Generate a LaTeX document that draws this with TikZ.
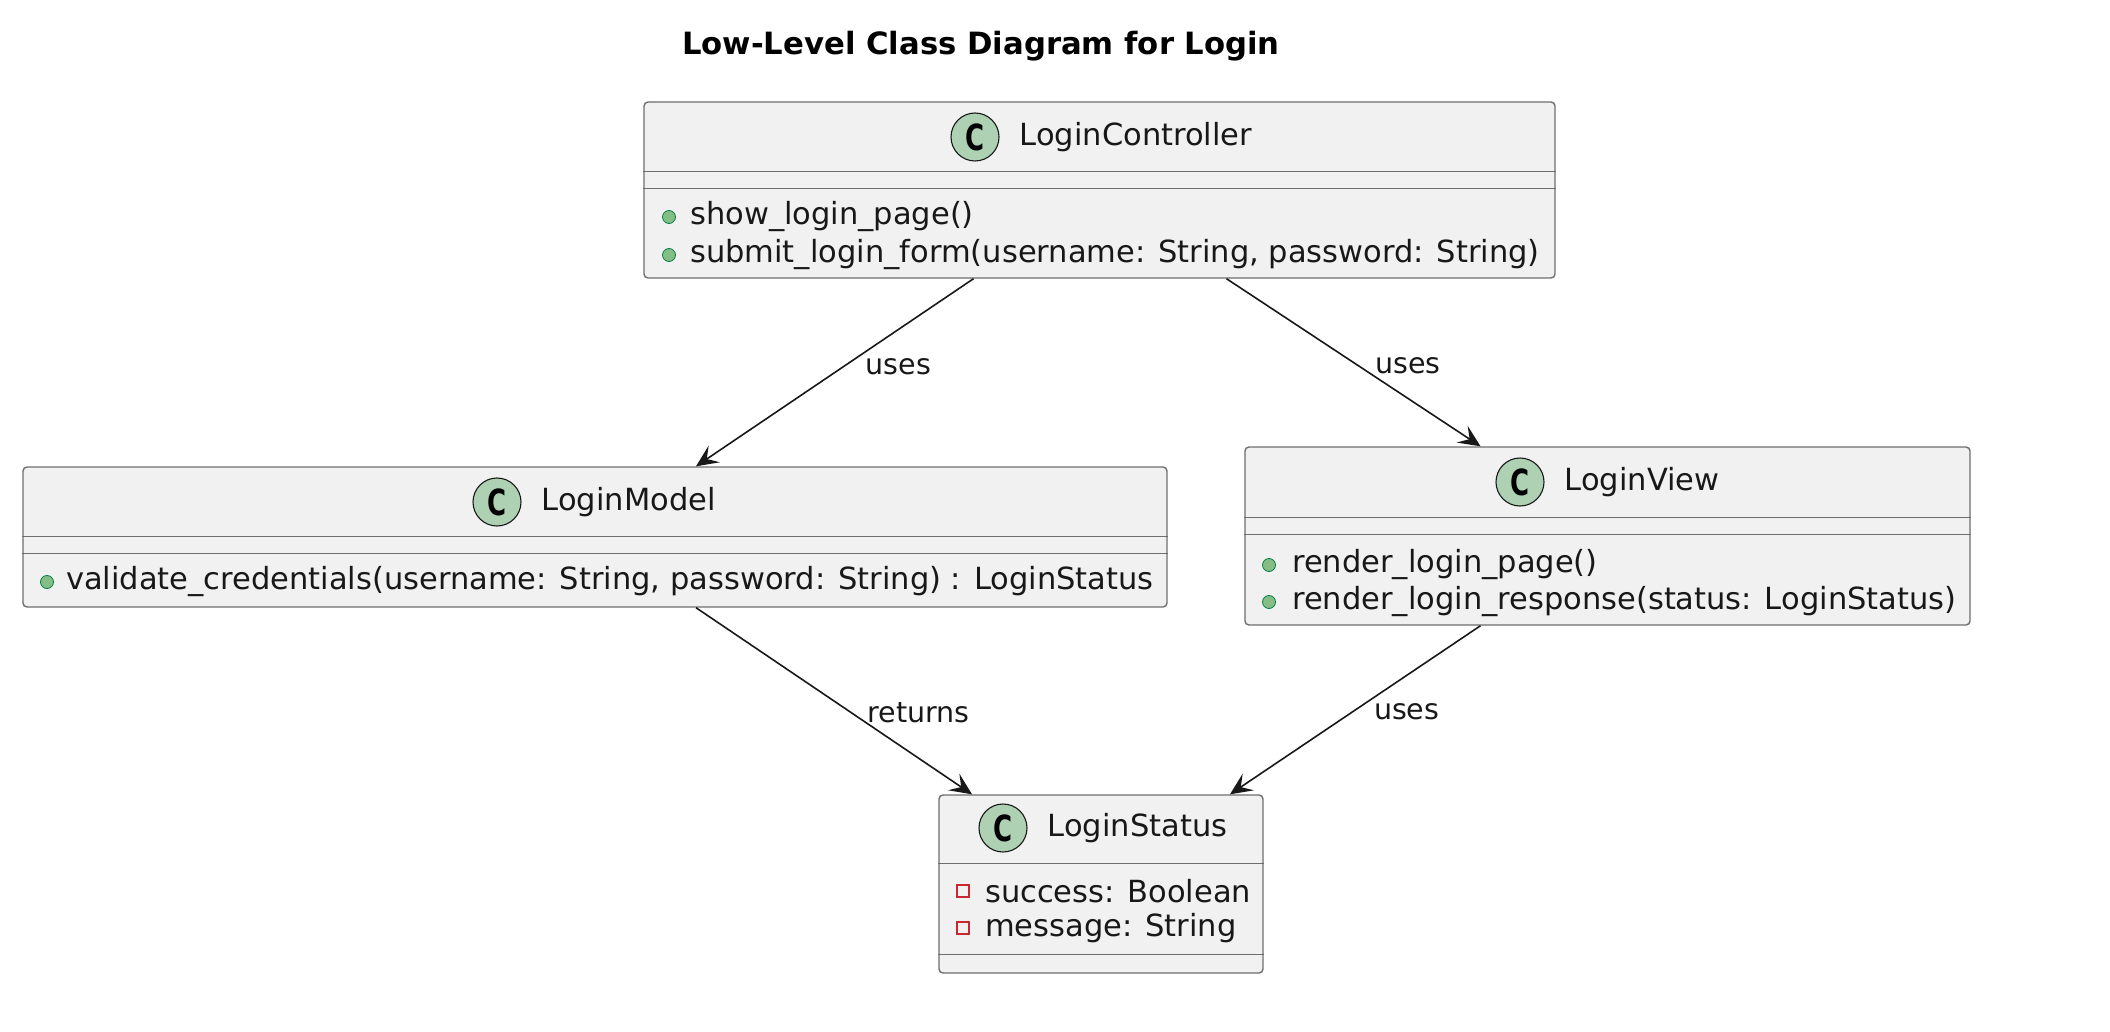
\documentclass[tikz,border=0pt]{standalone}
\usepackage{fontspec}
\setmainfont{DejaVu Sans}
\usetikzlibrary{positioning,arrows.meta,calc}
\definecolor{ink}{HTML}{181818}
\definecolor{edge}{HTML}{6E6E6E}
\definecolor{clsfill}{HTML}{F1F1F1}
\definecolor{spotfill}{HTML}{ADD1B2}
\definecolor{pubfill}{HTML}{84BE84}
\definecolor{publine}{HTML}{038048}
\definecolor{privline}{HTML}{C82930}
\tikzset{
  cls/.style={draw=edge, line width=1.4pt, rounded corners=4pt, fill=clsfill, inner sep=0pt},
  sep/.style={draw=edge, line width=1.4pt},
  spot/.style={circle, draw=ink, line width=1.1pt, fill=spotfill, minimum size=48pt, inner sep=0pt,
               font=\fontsize{36}{36}\selectfont\bfseries},
  cname/.style={inner sep=0pt, font=\fontsize{30.5}{38}\selectfont, text=ink},
  mem/.style={inner sep=0pt, anchor=west, font=\fontsize{30.5}{38}\selectfont, text=ink},
  pub/.style={circle, draw=publine, fill=pubfill, line width=0.8pt, minimum size=13pt, inner sep=0pt},
  priv/.style={rectangle, draw=privline, line width=1.1pt, minimum size=12pt, inner sep=0pt},
  uses/.style={-{Stealth[length=22pt,width=20pt,inset=9pt]}, draw=ink, line width=1.6pt},
  lbl/.style={inner sep=0pt, anchor=west, font=\fontsize{28.5}{34}\selectfont, text=ink},
  ttl/.style={inner sep=0pt, font=\fontsize{30.7}{36}\selectfont\bfseries, text=black},
}
% header rule and empty compartment rule of a class box
\newcommand{\clsrules}[3]{%
  \draw[sep] ([yshift=-#2pt]#1.north west) -- ([yshift=-#2pt]#1.north east);
  \draw[sep] ([yshift=-#3pt]#1.north west) -- ([yshift=-#3pt]#1.north east);}
\newcommand{\spotC}{\scalebox{0.72}[1]{C}}

\begin{document}
\begin{tikzpicture}[x=1pt, y=-1pt]
\useasboundingbox (0,0) rectangle (2110,1032);
\node[ttl] (title) at (981,46) {Low-Level Class Diagram for Login};
% class boxes
\node[cls, minimum width=911pt, minimum height=176pt] (lc) at (1099.5,190) {};
\node[cls, minimum width=1144pt, minimum height=140pt] (lm) at (595,537) {};
\node[cls, minimum width=725pt, minimum height=178pt] (lv) at (1607.5,536) {};
\node[cls, minimum width=324pt, minimum height=178pt] (ls) at (1101,884) {};
\clsrules{lc}{70}{87}
\clsrules{lm}{70}{87}
\clsrules{lv}{71}{88}
\clsrules{ls}{69}{160}
% headers
\node[spot] (lcC) at (975,137) {\spotC};
\node[cname, right=20pt of lcC] (lcN) {LoginController};
\node[spot] (lmC) at (497,502) {\spotC};
\node[cname, right=20pt of lmC] (lmN) {LoginModel};
\node[spot] (lvC) at (1520,482) {\spotC};
\node[cname, right=20pt of lvC] (lvN) {LoginView};
\node[spot] (lsC) at (1003,828) {\spotC};
\node[cname, right=20pt of lsC] (lsN) {LoginStatus};
% members
\node[pub] (lcD1) at (669,217) {};
\node[mem] (lc1) at (690,217) {show\_login\_page()};
\node[pub] (lcD2) at (669,255) {};
\node[mem] (lc2) at (690,255) {submit\_login\_form(username: String, password: String)};
\node[pub] (lmD1) at (47,582) {};
\node[mem] (lm1) at (66,582) {validate\_credentials(username: String, password: String) : LoginStatus};
\node[pub] (lvD1) at (1269,565) {};
\node[mem] (lv1) at (1292,565) {render\_login\_page()};
\node[pub] (lvD2) at (1269,602) {};
\node[mem] (lv2) at (1292,602) {render\_login\_response(status: LoginStatus)};
\node[priv] (lsD1) at (963,891) {};
\node[mem] (ls1) at (985,891) {success: Boolean};
\node[priv] (lsD2) at (963,928) {};
\node[mem] (ls2) at (985,928) {message: String};
% relations
\draw[uses] ([xshift=-126pt]lc.south) -- node[lbl, pos=0.467, xshift=21pt] {uses} ([xshift=101pt]lm.north);
\draw[uses] ([xshift=127pt]lc.south) -- node[lbl, pos=0.52, xshift=16pt] {uses} ([xshift=-127pt]lv.north);
\draw[uses] ([xshift=101pt]lm.south) -- node[lbl, pos=0.56, xshift=16pt] {returns} ([xshift=-129pt]ls.north);
\draw[uses] ([xshift=-127pt]lv.south) -- node[lbl, pos=0.512, xshift=21pt] {uses} ([xshift=129pt]ls.north);
\end{tikzpicture}
\end{document}
